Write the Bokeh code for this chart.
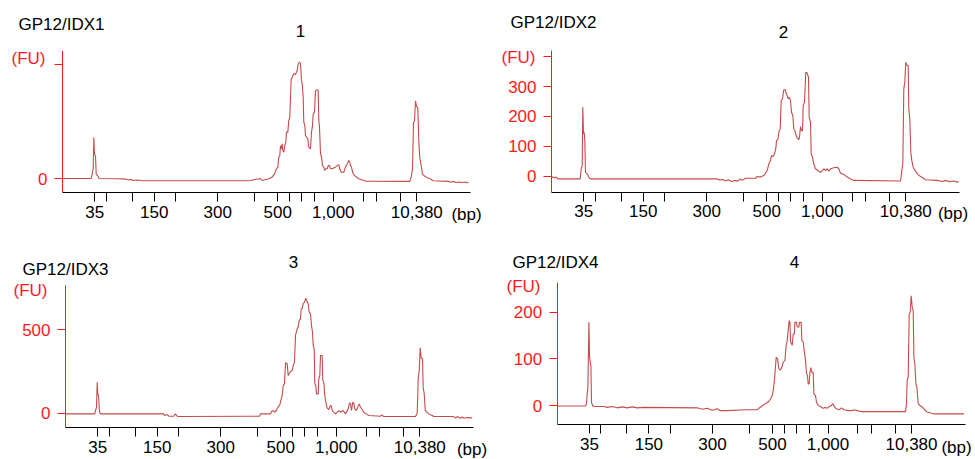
from bokeh.plotting import figure
from bokeh.layouts import column, row
from bokeh.models import Range1d, FixedTicker, Label
from bokeh.embed import file_html
from bokeh.resources import INLINE

# ---------------- data ----------------
# ladder marker positions along the migration axis (arbitrary units) and their labels
ladder_pos = [32.3, 43.5, 69.5, 91.7, 113.0, 155.3, 192.0, 215.3, 227.3, 239.0,
              252.2, 270.8, 300.5, 314.3, 338.0, 354.3]
ladder_labels = ["35", "", "", "150", "", "300", "", "500", "", "", "", "1,000",
                 "", "", "", "10,380"]

sample_names = ["GP12/IDX1", "GP12/IDX2", "GP12/IDX3", "GP12/IDX4"]
sample_nums = ["1", "2", "3", "4"]

# electropherogram traces: (migration position, fluorescence FU)
trace1 = [(0, 0), (28.7, 0), (30.7, 33), (31.3, 143), (32, 85), (33, 79), (33.7, 15), (35.3, 9),
          (36.5, 0), (55, -1), (63, -2), (66, -5), (68, -3), (71, -7), (75, -5), (80, -8),
          (186, -8), (188, -7), (198, 0), (199.7, -7), (201.3, -5), (206.3, -1), (209.7, 5),
          (212, 16), (214, 34), (215.3, 40), (216.3, 75), (217.3, 80), (218, 115), (219, 104),
          (219.7, 121), (220.3, 98), (221.3, 92), (222.3, 115), (223.3, 127), (224, 162),
          (225.3, 162), (226.3, 203), (227.3, 214), (228, 284), (228.7, 348), (229.7, 354),
          (231.3, 366), (233, 363), (234, 372), (234.7, 377), (235.7, 401), (237, 407),
          (238, 401), (239, 342), (239.7, 331), (240.7, 284), (241.3, 197), (242.3, 185),
          (243, 150), (244, 144), (245.3, 139), (246.3, 109), (248, 104), (249, 162),
          (250, 185), (250.7, 226), (252, 232), (253, 307), (254.7, 310), (255.7, 307),
          (256.3, 203), (257, 179), (258, 86), (259, 75), (260, 45), (261.3, 40), (262.3, 28),
          (263.3, 34), (264.7, 34), (265.7, 45), (267, 45), (268, 34), (269.7, 34), (271.3, 37),
          (273, 40), (274.7, 45), (276.3, 48), (277.3, 34), (278.7, 22), (281.3, 22), (283, 40),
          (284.7, 51), (286.3, 63), (287.3, 57), (288, 45), (289, 40), (290.3, 19), (292, 10),
          (294, 5), (296.3, -1), (301.3, -7), (303, -9), (347.3, -10), (348.7, 5), (350, 33),
          (351, 196), (352, 200), (353, 271), (354, 253), (355.3, 247), (356.3, 131),
          (357.3, 73), (358.7, 44), (360, 15), (362, 9), (364.7, 3), (368, -2), (370.7, -8),
          (386.3, -10), (388, -13), (391.3, -10), (393, -14), (396.3, -12), (399.7, -14),
          (403, -12), (404.7, -15), (406, -14)]

trace2 = [(0, -3), (2, -3), (3, -6), (5, -3), (6, -9), (28.7, -9), (29.7, 25), (30.7, 36),
          (31.3, 231), (32, 142), (32.7, 147), (33.3, 119), (34, 13), (35.7, 8), (37.3, -3),
          (39, -9), (165.7, -9), (168, -13), (171, -11), (174, -16), (177, -12), (180, -18),
          (183, -14), (186, -17), (189, -9), (190.7, -14), (194, -7), (204, -7), (205.7, -1),
          (209, -3), (212.3, 2), (214, 10), (215.7, 19), (217.3, 41), (219, 53), (220, 69),
          (221.7, 66), (223, 75), (224.3, 92), (225, 119), (226.3, 122), (227.7, 153),
          (228.7, 158), (229.7, 253), (231, 259), (232.3, 289), (234, 289), (234.7, 275),
          (235.7, 270), (236.7, 259), (237.7, 264), (239, 253), (240, 214), (241.3, 203),
          (242.3, 158), (243.3, 153), (244.7, 136), (245.7, 128), (247.3, 122), (248, 131),
          (249, 166), (250, 153), (251, 151), (251.7, 236), (253, 248), (254.3, 348),
          (255.7, 345), (257, 331), (257.7, 197), (259, 181), (259.7, 75), (261, 64),
          (262.3, 41), (264, 25), (266.3, 19), (269, 13), (270.7, 17), (272.3, 25), (274, 19),
          (275.7, 25), (277.3, 17), (279, 25), (282.3, 28), (285.7, 30), (287.3, 25), (289, 10),
          (292.3, 6), (295.7, -3), (299, -9), (302.3, -14), (349, -16), (350, 10), (351.3, 41),
          (352.3, 292), (353.3, 314), (354.3, 381), (355.3, 372), (356.7, 370), (357.3, 225),
          (358.3, 192), (359.3, 80), (360.3, 52), (361.7, 30), (364, 17), (366.3, 6), (369, -1),
          (371.7, -6), (374, -12), (385.7, -14), (390.7, -18), (394, -14), (397.3, -18),
          (402.3, -16), (405.7, -20), (407.3, -18)]

trace3 = [(0, -4), (29.3, -4), (30, 16), (31, 36), (31.7, 186), (32.3, 116), (33, 106), (34, 6),
          (35, -4), (98.3, -4), (99, -14), (101.7, -8), (103.3, -18), (108.3, -18), (110, -4),
          (111.7, -18), (113.3, -20), (185, -18), (194, -18), (195, -4), (205, -4), (206, 10),
          (207.7, 16), (209, 6), (211, 16), (212.3, 36), (214.3, 50), (215.7, 86), (216.7, 106),
          (217.7, 166), (219, 176), (220, 302), (221.7, 296), (222.7, 226), (223.7, 236),
          (225, 250), (226.7, 256), (227.7, 286), (229, 306), (230, 466), (231.7, 506),
          (232.7, 516), (233.7, 556), (235, 566), (235.7, 626), (236.7, 626), (237.7, 656),
          (239, 666), (240.3, 690), (241.7, 666), (242.7, 656), (243.7, 606), (245, 596),
          (246, 526), (247, 486), (247.7, 406), (248.7, 386), (249.3, 176), (250.3, 166),
          (251, 116), (252.7, 116), (253.3, 206), (254.3, 226), (255, 346), (256.7, 346),
          (257.3, 196), (258.3, 186), (259.3, 106), (260.3, 66), (261.7, 30), (263.3, 22),
          (265, 46), (266, 42), (266.7, 16), (268.3, 6), (270, -4), (271.7, 6), (273.3, 16),
          (275, 6), (277.7, 16), (280, -4), (282.7, 26), (284, 62), (285, 56), (286, 16),
          (287.3, 66), (288.3, 62), (289.3, 26), (290.7, 16), (292.3, 36), (293.7, 56),
          (295, 36), (296.7, 22), (298.3, 6), (300.7, -4), (303.3, -14), (315, -18), (316, -10),
          (318.3, -20), (350, -20), (351.7, 0), (352.7, 210), (353.7, 250), (354.7, 392),
          (355.7, 330), (357, 326), (357.7, 150), (358.7, 118), (359.7, 20), (361, 8),
          (363.3, -4), (366.7, -14), (368.3, -20), (388.3, -20), (390, -30), (391.7, -20),
          (395, -30), (396.7, -22), (398.3, -30), (401.7, -26), (405, -28), (406.7, -26)]

trace4 = [(0, -1), (28.5, -1), (29.3, 4), (30, 25), (30.7, 39), (31.7, 178), (32.3, 107),
          (33, 93), (33.7, 86), (34.3, 7), (35.3, 0), (36.7, -2), (46.7, -2), (50, -4), (55, -2),
          (60, -5), (65, -3), (70, -5), (75, -3), (80, -5), (86.7, -4), (140, -5), (145, -8),
          (150, -6), (155, -10), (160, -7), (163.3, -11), (170, -11), (188.3, -9), (200, -9),
          (201.7, -6), (204.3, -2), (206.7, 2), (209, 5), (211.7, 9), (213.3, 14), (215, 21),
          (216.3, 36), (217.3, 57), (218, 75), (219, 103), (220.3, 100), (221.7, 79),
          (223.3, 76), (225, 84), (226, 93), (227.7, 96), (229, 129), (230, 139), (231, 161),
          (232, 182), (232.7, 178), (233.3, 136), (234.3, 132), (235, 129), (236, 153),
          (237.3, 153), (237.7, 178), (239.3, 178), (240, 168), (241.7, 168), (242.3, 178),
          (244, 178), (244.7, 139), (246, 136), (247, 118), (248.3, 96), (249.3, 69),
          (250.3, 64), (251, 46), (252, 46), (252.7, 71), (253.7, 81), (254.7, 71), (256, 71),
          (256.7, 25), (258.3, 21), (259.3, 7), (261, 0), (263.3, -2), (265.7, -6), (268.3, -4),
          (270, -6), (272.3, -2), (274.3, 0), (275.7, 4), (277, -2), (279, -7), (282.3, -9),
          (284.3, -5), (287, -9), (291.7, -11), (295, -11), (296.7, -9), (300, -11),
          (303.3, -13), (348.3, -13), (349.3, 4), (350, 54), (351, 61), (352, 196), (353, 200),
          (354, 235), (355, 210), (356, 203), (356.7, 103), (357.7, 89), (358.7, 46),
          (359.7, 39), (361, 4), (362.7, 0), (365, -3), (366.7, -7), (368.3, -11), (370, -14),
          (373.3, -16), (376.7, -18), (406.7, -18)]

traces = [trace1, trace2, trace3, trace4]

# y-axis extent (FU at the x axis, FU at the top of the y axis line) and ticks
y_axis_span = [(-48.9, 447.2), (-53.5, 420.4), (-87.5, 765.6), (-41.3, 262.7)]
y_ticks = [[0, 400], [0, 100, 200, 300, 400], [0, 500], [0, 100, 200]]
y_hidden = [[400], [400], [], []]

# ---------------- styling / layout ----------------
FONT = "Liberation Sans"
FS = "17px"
TRACE_COLOR = "#c44c4c"
RED = "#ff1a1a"
X_END = 408

# figure width, height; plot box inside the figure (px): axis x, y-axis top, x-axis y
geom = [
    dict(w=490, h=236, ax=62.0, top=50.0, bot=192.0),
    dict(w=485, h=236, ax=61.0, top=50.0, bot=191.7),
    dict(w=490, h=223, ax=65.0, top=49.0, bot=191.3),
    dict(w=485, h=223, ax=66.7, top=46.3, bot=188.3),
]
# text anchors in figure pixels: name (left, middle), number (centre), (FU) (right), (bp) (centre)
ann = [
    dict(name=(18, 24), num=(300, 30), fu=(45, 58), bp=(466, 214)),
    dict(name=(20, 22), num=(293, 31), fu=(45, 57), bp=(462.5, 213)),
    dict(name=(22, 33), num=(293, 25), fu=(47, 54), bp=(471.5, 213)),
    dict(name=(22, 26), num=(304, 25), fu=(50, 50), bp=(466, 211)),
]

figs = []
for i in range(4):
    g = geom[i]
    y0, y1 = y_axis_span[i]
    ppu = (g["bot"] - g["top"]) / (y1 - y0)      # px per FU

    def dx(px, g=g):
        return px - g["ax"]

    def dy(py, g=g, y1=y1, ppu=ppu):
        return y1 + (g["top"] - py) / ppu

    p = figure(width=g["w"], height=g["h"],
               x_range=Range1d(dx(0), dx(g["w"])),
               y_range=Range1d(dy(g["h"]), dy(0)),
               output_backend="svg", toolbar_location=None,
               min_border=0, min_border_left=0, min_border_right=0,
               min_border_top=0, min_border_bottom=0)
    p.grid.visible = False
    p.outline_line_color = None
    p.background_fill_color = "white"
    p.border_fill_color = "white"

    xs = [pt[0] for pt in traces[i]]
    ys = [pt[1] for pt in traces[i]]
    p.line(xs, ys, line_color=TRACE_COLOR, line_width=1.1)

    # x axis
    xa = p.xaxis[0]
    xa.fixed_location = y0
    xa.bounds = (0, X_END)
    xa.ticker = FixedTicker(ticks=ladder_pos)
    xa.major_label_overrides = {pos: lab for pos, lab in zip(ladder_pos, ladder_labels)}
    xa.axis_line_color = "black"
    xa.major_tick_line_color = "black"
    xa.major_tick_out = 9
    xa.major_tick_in = 0
    xa.minor_tick_line_color = None
    xa.major_label_text_font = FONT
    xa.major_label_text_font_size = FS
    xa.major_label_text_color = "black"
    xa.major_label_standoff = 4

    # y axis
    ya = p.yaxis[0]
    ya.fixed_location = 0
    ya.bounds = (y0, y1)
    ya.ticker = FixedTicker(ticks=y_ticks[i])
    ya.major_label_overrides = {t: "" for t in y_hidden[i]}
    ya.axis_line_color = RED
    ya.major_tick_line_color = RED
    ya.major_tick_out = 8
    ya.major_tick_in = 0
    ya.minor_tick_line_color = None
    ya.major_label_text_font = FONT
    ya.major_label_text_font_size = FS
    ya.major_label_text_color = RED
    ya.major_label_standoff = 7

    a = ann[i]
    p.add_layout(Label(x=dx(a["name"][0]), y=dy(a["name"][1]), text=sample_names[i],
                       text_font=FONT, text_font_size=FS, text_color="black",
                       text_align="left", text_baseline="middle"))
    p.add_layout(Label(x=dx(a["num"][0]), y=dy(a["num"][1]), text=sample_nums[i],
                       text_font=FONT, text_font_size=FS, text_color="black",
                       text_align="center", text_baseline="middle"))
    p.add_layout(Label(x=dx(a["fu"][0]), y=dy(a["fu"][1]), text="(FU)",
                       text_font=FONT, text_font_size=FS, text_color=RED,
                       text_align="right", text_baseline="middle"))
    p.add_layout(Label(x=dx(a["bp"][0]), y=dy(a["bp"][1]), text="(bp)",
                       text_font=FONT, text_font_size=FS, text_color="black",
                       text_align="center", text_baseline="middle"))
    figs.append(p)

layout = column(row(figs[0], figs[1]), row(figs[2], figs[3]))
open("out.html", "w").write(file_html(layout, INLINE))
